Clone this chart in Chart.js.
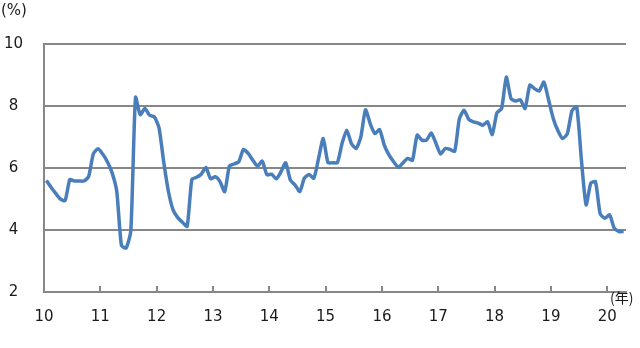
<!DOCTYPE html>
<html>
<head>
<meta charset="utf-8">
<script src="https://cdn.jsdelivr.net/npm/chart.js@4/dist/chart.umd.min.js"></script>
<style>
  html, body { margin: 0; padding: 0; background: #fff; }
  #wrap { width: 640px; height: 348px; }
</style>
</head>
<body>
<div id="wrap"><canvas id="c" width="640" height="348"></canvas></div>
<script>
// Monthly rate (%), Jan 2010 – Apr 2020
const yearLabels = ['10','11','12','13','14','15','16','17','18','19','20'];
const rate2010 = [5.6, 5.38, 5.18, 5.0, 4.95, 5.63, 5.58, 5.58, 5.58, 5.72, 6.45, 6.62];
const rate2011 = [6.45, 6.2, 5.85, 5.25, 3.5, 3.42, 3.98, 8.28, 7.72, 7.92, 7.7, 7.65];
const rate2012 = [7.3, 6.2, 5.25, 4.65, 4.4, 4.25, 4.12, 5.63, 5.7, 5.8, 6.02, 5.65];
const rate2013 = [5.72, 5.56, 5.24, 6.06, 6.13, 6.2, 6.6, 6.47, 6.25, 6.06, 6.22, 5.78];
const rate2014 = [5.8, 5.65, 5.88, 6.17, 5.61, 5.45, 5.24, 5.68, 5.79, 5.67, 6.31, 6.95];
const rate2015 = [6.17, 6.17, 6.17, 6.79, 7.22, 6.79, 6.63, 7.0, 7.88, 7.43, 7.11, 7.24];
const rate2016 = [6.74, 6.42, 6.2, 6.02, 6.17, 6.31, 6.25, 7.06, 6.9, 6.9, 7.13, 6.8];
const rate2017 = [6.45, 6.63, 6.6, 6.54, 7.59, 7.86, 7.57, 7.49, 7.45, 7.38, 7.49, 7.08];
const rate2018 = [7.78, 7.92, 8.93, 8.24, 8.16, 8.2, 7.92, 8.67, 8.56, 8.48, 8.77, 8.2];
const rate2019 = [7.6, 7.2, 6.95, 7.11, 7.85, 7.97, 6.26, 4.81, 5.51, 5.56, 4.52, 4.38];
const rate2020 = [4.49, 4.06, 3.95, 3.95];

const rates = [].concat(rate2010, rate2011, rate2012, rate2013, rate2014, rate2015,
                        rate2016, rate2017, rate2018, rate2019, rate2020);
const points = rates.map((v, i) => ({ x: i, y: v }));

const GRID = '#878787';
const INK = '#1a1a1a';
const FONT = 'DejaVu Sans';

// small upward tick marks at each year boundary on the x axis
const innerTicks = {
  id: 'innerTicks',
  afterDraw(chart) {
    const xs = chart.scales.x, ctx = chart.ctx;
    const base = chart.chartArea.bottom;
    ctx.save();
    ctx.strokeStyle = GRID;
    ctx.lineWidth = 2;
    xs.ticks.forEach(t => {
      const px = Math.round(xs.getPixelForValue(t.value));
      ctx.beginPath();
      ctx.moveTo(px, base);
      ctx.lineTo(px, base - 6);
      ctx.stroke();
    });
    ctx.restore();
  }
};

// unit captions
const unitText = {
  id: 'unitText',
  afterDraw(chart) {
    const ctx = chart.ctx;
    ctx.save();
    ctx.fillStyle = INK;
    ctx.textBaseline = 'middle';
    ctx.textAlign = 'left';
    ctx.font = '15px "' + FONT + '", "Noto Sans CJK JP"';
    ctx.fillText('(%)', 1, 11);
    ctx.font = '14px "Noto Sans CJK JP", "' + FONT + '"';
    ctx.fillText('(年)', 610, 298);
    ctx.restore();
  }
};

new Chart(document.getElementById('c'), {
  type: 'line',
  data: {
    datasets: [{
      data: points,
      borderColor: '#4a7ebb',
      borderWidth: 3.5,
      pointRadius: 0,
      tension: 0.2,
      fill: false
    }]
  },
  options: {
    responsive: false,
    devicePixelRatio: 1,
    animation: false,
    layout: { padding: { top: 44, right: 14, left: 0, bottom: 0 } },
    plugins: { legend: { display: false }, tooltip: { enabled: false } },
    scales: {
      x: {
        type: 'linear',
        min: -0.5,
        max: rates.length - 0.5,
        afterBuildTicks(scale) {
          scale.ticks = yearLabels.map((_, k) => ({ value: -0.5 + 12 * k }));
        },
        afterFit(scale) { scale.height = 56; },
        grid: { display: false, drawTicks: false },
        border: { display: true, color: GRID, width: 2 },
        ticks: {
          autoSkip: false,
          maxRotation: 0,
          padding: 16,
          color: INK,
          font: { family: FONT, size: 15 },
          callback: (v) => yearLabels[Math.round((v + 0.5) / 12)]
        }
      },
      y: {
        min: 2,
        max: 10,
        afterFit(scale) { scale.width = 44; },
        grid: { color: GRID, lineWidth: 2, drawTicks: false },
        border: { display: true, color: GRID, width: 2 },
        ticks: {
          stepSize: 2,
          padding: 21,
          crossAlign: 'center',
          color: INK,
          font: { family: FONT, size: 15 }
        }
      }
    }
  },
  plugins: [innerTicks, unitText]
});
</script>
</body>
</html>
